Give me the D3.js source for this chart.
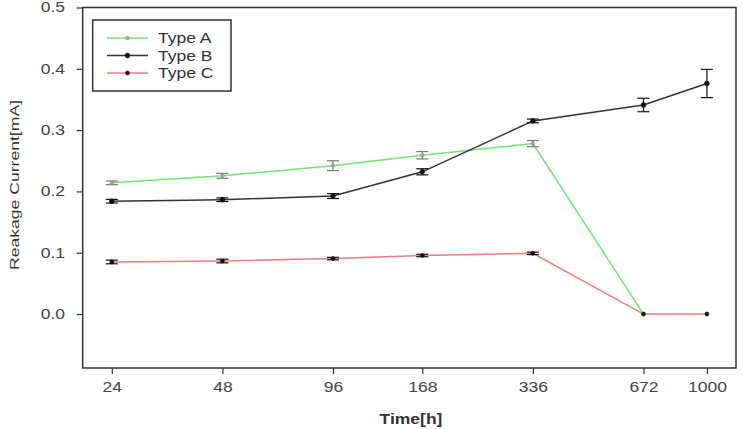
<!DOCTYPE html>
<html><head><meta charset="utf-8">
<script src="https://cdn.jsdelivr.net/npm/d3@7"></script>
<style>body{margin:0;background:#fff;} svg{display:block;font-family:"Liberation Sans",Arial,sans-serif;}</style>
</head><body>
<svg id="c" width="743" height="429"></svg>
<script>
const times = [24, 48, 96, 168, 336, 672, 1000];
const tickLabels = ["24", "48", "96", "168", "336", "672", "1000"];
const yTicks = [0.0, 0.1, 0.2, 0.3, 0.4, 0.5];
const seriesNames = ["Type A", "Type B", "Type C"];
const typeA = [0.214, 0.2255, 0.242, 0.259, 0.278, 0.0, null];
const typeAErr = [0.003, 0.004, 0.008, 0.006, 0.005, 0, null];
const typeB = [0.184, 0.1865, 0.1925, 0.232, 0.315, 0.341, 0.376];
const typeBErr = [0.003, 0.003, 0.004, 0.005, 0.003, 0.011, 0.023];
const typeC = [0.085, 0.0865, 0.0905, 0.0955, 0.099, 0.0, 0.0];
const typeCErr = [0.003, 0.003, 0.002, 0.002, 0.002, 0, 0];

const svg = d3.select("#c");
const L = 82.7, R = 736, T = 7.5, B = 368;
const x = d3.scaleLog().domain([20, 1200]).range([L, R]);
const y = d3.scaleLinear().domain([-0.088, 0.5]).range([B, T]);
const axisCol = "#333";
const textCol = "#444";

// frame
svg.append("rect").attr("x", L).attr("y", T).attr("width", R - L).attr("height", B - T)
  .attr("fill", "none").attr("stroke", axisCol).attr("stroke-width", 1.5);

// x axis
const xa = svg.append("g").attr("transform", `translate(0,${B})`)
  .call(d3.axisBottom(x).tickValues(times).tickFormat((d, i) => tickLabels[i]).tickSize(6).tickPadding(8));
xa.select(".domain").remove();
xa.selectAll("line").attr("stroke", axisCol).attr("stroke-width", 1.2);
xa.selectAll("text").attr("font-size", 14).attr("fill", textCol).attr("class", "stretch");

// y axis
const ya = svg.append("g").attr("transform", `translate(${L},0)`)
  .call(d3.axisLeft(y).tickValues(yTicks).tickFormat(d3.format(".1f")).tickSize(6).tickPadding(12));
ya.select(".domain").remove();
ya.selectAll("line").attr("stroke", axisCol).attr("stroke-width", 1.2);
ya.selectAll("text").attr("font-size", 14).attr("fill", textCol).attr("x", -17.7).attr("class", "stretch");

// axis titles
svg.append("text").attr("x", 411).attr("y", 424).attr("text-anchor", "middle")
  .attr("font-size", 14).attr("font-weight", "bold").attr("fill", "#333").attr("class", "stretch")
  .text("Time[h]");
svg.append("text").attr("transform", "translate(19,185) rotate(-90)").attr("text-anchor", "middle")
  .attr("font-size", 13).attr("fill", "#333")
  .attr("textLength", 170).attr("lengthAdjust", "spacingAndGlyphs")
  .text("Reakage Current[mA]");

const series = [
  {name: seriesNames[0], vals: typeA, err: typeAErr, line: "#6ee86e", errCol: "#777", mk: "#aaa", mkStroke: "#888", r: 1.8},
  {name: seriesNames[1], vals: typeB, err: typeBErr, line: "#333", errCol: "#111", mk: "#111", mkStroke: "#111", r: 2.4},
  {name: seriesNames[2], vals: typeC, err: typeCErr, line: "#f07c7c", errCol: "#111", mk: "#111", mkStroke: "#111", r: 2}
];

const lineGen = d3.line().defined(d => d.v !== null).x(d => x(d.t)).y(d => y(d.v));
const cap = 6;
series.forEach(s => {
  const pts = times.map((t, i) => ({t, v: s.vals[i], e: s.err[i]})).filter(d => d.v !== null);
  const g = svg.append("g");
  g.append("path").datum(pts).attr("d", lineGen).attr("fill", "none").attr("stroke", s.line).attr("stroke-width", 1.5);
  pts.filter(d => d.e > 0).forEach(d => {
    const cx = x(d.t), y1 = y(d.v + d.e), y2 = y(d.v - d.e);
    g.append("line").attr("x1", cx).attr("x2", cx).attr("y1", y1).attr("y2", y2).attr("stroke", s.errCol).attr("stroke-width", 1.2);
    [y1, y2].forEach(yy => g.append("line").attr("x1", cx - cap).attr("x2", cx + cap).attr("y1", yy).attr("y2", yy)
      .attr("stroke", s.errCol).attr("stroke-width", 1.2));
  });
  g.selectAll("circle").data(pts).join("circle").attr("cx", d => x(d.t)).attr("cy", d => y(d.v))
    .attr("r", s.r).attr("fill", s.mk).attr("stroke", s.mkStroke).attr("stroke-width", 0.6);
});

// legend
const lg = svg.append("g");
lg.append("rect").attr("x", 92.7).attr("y", 20).attr("width", 138.3).attr("height", 71)
  .attr("fill", "#fff").attr("stroke", axisCol).attr("stroke-width", 1.5);
series.forEach((s, i) => {
  const yy = 38 + i * 17.5;
  lg.append("line").attr("x1", 107).attr("x2", 148).attr("y1", yy).attr("y2", yy).attr("stroke", s.line).attr("stroke-width", 1.5);
  lg.append("circle").attr("cx", 127.5).attr("cy", yy).attr("r", s.r).attr("fill", s.mk).attr("stroke", s.mkStroke).attr("stroke-width", 0.6);
  lg.append("text").attr("x", 158).attr("y", yy + 5).attr("font-size", 14).attr("fill", "#333").attr("class", "stretch").text(s.name);
});

// horizontal stretch of text like the reference
svg.selectAll("text.stretch").each(function() {
  const len = this.getComputedTextLength();
  d3.select(this).attr("textLength", len * 1.25).attr("lengthAdjust", "spacingAndGlyphs");
});
</script>
</body></html>
